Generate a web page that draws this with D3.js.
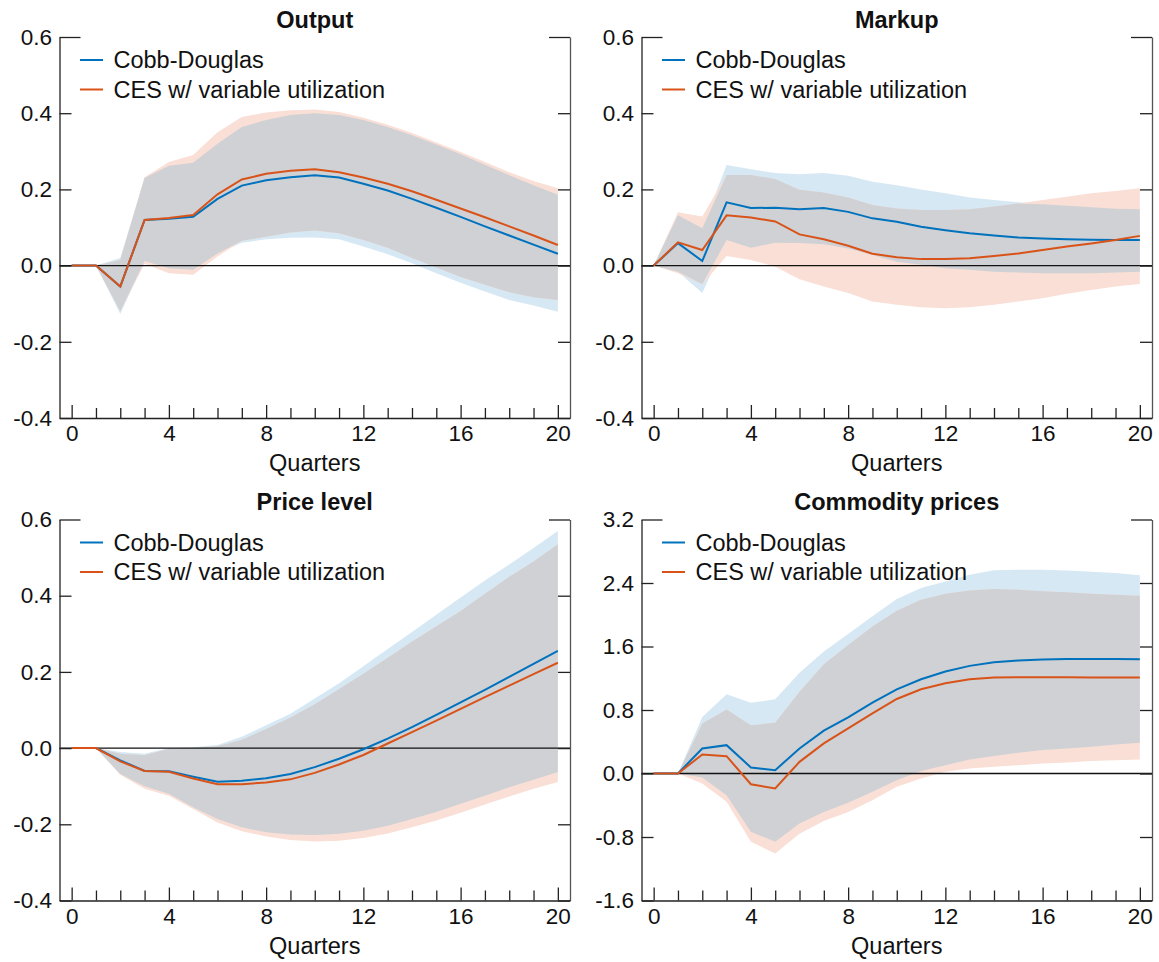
<!DOCTYPE html>
<html><head><meta charset="utf-8">
<script src="https://cdn.jsdelivr.net/npm/d3@7"></script>
<style>
body{margin:0;background:#fff}
svg{display:block}
text{font-family:"Liberation Sans",Arial,Helvetica,sans-serif;fill:#111}
</style>
</head><body>
<svg id="c" width="1159" height="962"></svg>
<script>
// ---------- data ----------
const quarters = [0,1,2,3,4,5,6,7,8,9,10,11,12,13,14,15,16,17,18,19,20];
const xTickLabels = [0,4,8,12,16,20];
const seriesNames = ["Cobb-Douglas","CES w/ variable utilization"];
const titles = ["Output","Markup","Price level","Commodity prices"];
const yTicksSmall = [-0.4,-0.2,0.0,0.2,0.4,0.6];
const yTicksCommodity = [-1.6,-0.8,0.0,0.8,1.6,2.4,3.2];

// Output
const outputCD    = [0,0,-0.055,0.12,0.123,0.128,0.175,0.21,0.224,0.232,0.237,0.231,0.215,0.197,0.175,0.152,0.128,0.103,0.079,0.055,0.031];
const outputCES   = [0,0,-0.055,0.12,0.125,0.133,0.187,0.226,0.241,0.249,0.253,0.245,0.231,0.215,0.195,0.173,0.15,0.127,0.103,0.079,0.054];
const outputCDHi  = [0,0,0.02,0.23,0.262,0.27,0.32,0.364,0.382,0.395,0.40,0.395,0.382,0.364,0.342,0.318,0.292,0.265,0.237,0.211,0.186];
const outputCESHi = [0,0,0.015,0.232,0.272,0.29,0.35,0.39,0.402,0.408,0.41,0.403,0.388,0.37,0.348,0.323,0.298,0.272,0.245,0.222,0.203];
const outputCDLo  = [0,0,-0.127,0.012,-0.007,-0.011,0.032,0.06,0.069,0.073,0.074,0.069,0.05,0.03,0.006,-0.02,-0.045,-0.068,-0.09,-0.105,-0.121];
const outputCESLo = [0,0,-0.12,0.005,-0.02,-0.024,0.024,0.065,0.076,0.087,0.092,0.085,0.067,0.047,0.02,-0.005,-0.03,-0.05,-0.07,-0.083,-0.09];

// Markup
const markupCD    = [0,0.059,0.012,0.166,0.151,0.152,0.148,0.151,0.141,0.124,0.115,0.102,0.093,0.085,0.079,0.074,0.071,0.069,0.068,0.067,0.067];
const markupCES   = [0,0.061,0.041,0.132,0.126,0.116,0.082,0.069,0.052,0.031,0.022,0.017,0.017,0.019,0.025,0.032,0.041,0.05,0.058,0.067,0.078];
const markupCDHi  = [0,0.132,0.098,0.264,0.253,0.243,0.24,0.243,0.236,0.22,0.211,0.2,0.19,0.179,0.172,0.166,0.161,0.157,0.153,0.149,0.148];
const markupCESHi = [0,0.14,0.129,0.238,0.238,0.227,0.199,0.192,0.179,0.159,0.15,0.146,0.146,0.148,0.155,0.163,0.172,0.181,0.19,0.196,0.203];
const markupCDLo  = [0,-0.016,-0.072,0.067,0.047,0.06,0.059,0.056,0.045,0.028,0.01,0.002,-0.007,-0.011,-0.016,-0.018,-0.02,-0.02,-0.02,-0.018,-0.016];
const markupCESLo = [0,-0.02,-0.049,0.025,0.015,-0.003,-0.036,-0.055,-0.072,-0.094,-0.103,-0.109,-0.112,-0.109,-0.103,-0.094,-0.086,-0.074,-0.064,-0.055,-0.048];

// Price level
const priceCD    = [0,0,-0.032,-0.06,-0.061,-0.075,-0.088,-0.086,-0.079,-0.068,-0.05,-0.028,-0.003,0.025,0.055,0.087,0.12,0.153,0.187,0.221,0.255];
const priceCES   = [0,0,-0.035,-0.06,-0.062,-0.08,-0.095,-0.095,-0.09,-0.082,-0.065,-0.043,-0.018,0.012,0.042,0.072,0.103,0.134,0.164,0.194,0.224];
const priceCDHi  = [0,0,-0.01,-0.015,0.0,0.002,0.008,0.03,0.06,0.09,0.13,0.17,0.215,0.26,0.305,0.35,0.395,0.44,0.482,0.525,0.57];
const priceCESHi = [0,0,-0.015,-0.019,-0.002,0.0,0.005,0.022,0.05,0.08,0.115,0.155,0.195,0.237,0.28,0.32,0.36,0.405,0.45,0.49,0.535];
const priceCDLo  = [0,0,-0.068,-0.1,-0.12,-0.155,-0.186,-0.208,-0.221,-0.227,-0.228,-0.225,-0.217,-0.204,-0.186,-0.168,-0.146,-0.125,-0.103,-0.083,-0.063];
const priceCESLo = [0,0,-0.07,-0.107,-0.125,-0.16,-0.195,-0.218,-0.232,-0.241,-0.245,-0.243,-0.236,-0.224,-0.208,-0.19,-0.17,-0.148,-0.127,-0.107,-0.089];

// Commodity prices
const commCD    = [0,0,0.315,0.357,0.076,0.042,0.315,0.539,0.707,0.893,1.061,1.187,1.284,1.356,1.402,1.423,1.436,1.444,1.444,1.444,1.44];
const commCES   = [0,0,0.239,0.218,-0.135,-0.189,0.147,0.379,0.568,0.758,0.939,1.061,1.137,1.187,1.208,1.213,1.213,1.213,1.21,1.21,1.208];
const commCDHi  = [0,0,0.713,1.0,0.89,0.936,1.27,1.537,1.756,1.98,2.198,2.337,2.42,2.505,2.56,2.568,2.568,2.556,2.543,2.526,2.497];
const commCESHi = [0,0,0.63,0.806,0.609,0.638,1.03,1.377,1.62,1.853,2.05,2.19,2.265,2.307,2.324,2.316,2.295,2.282,2.265,2.253,2.24];
const commCDLo  = [0,0,-0.05,-0.273,-0.735,-0.86,-0.63,-0.484,-0.37,-0.23,-0.084,0.03,0.105,0.177,0.219,0.261,0.295,0.316,0.337,0.366,0.387];
const commCESLo = [0,0,-0.126,-0.357,-0.86,-1.008,-0.76,-0.598,-0.484,-0.337,-0.168,-0.063,0.021,0.063,0.084,0.105,0.126,0.139,0.156,0.168,0.177];

// ---------- styling ----------
const blue = "#0072BD", orange = "#D95319";
const blueBand = "#D6E8F4", orangeBand = "#F9DFD6", overlapBand = "#CFD1D5";
const tickFont = 22.5, textFont = 23.5;

const panels = [
  {title:titles[0], cd:outputCD, ces:outputCES, cdHi:outputCDHi, cdLo:outputCDLo, cesHi:outputCESHi, cesLo:outputCESLo, yDomain:[-0.4,0.6], yTicks:yTicksSmall, col:0, row:0},
  {title:titles[1], cd:markupCD, ces:markupCES, cdHi:markupCDHi, cdLo:markupCDLo, cesHi:markupCESHi, cesLo:markupCESLo, yDomain:[-0.4,0.6], yTicks:yTicksSmall, col:1, row:0},
  {title:titles[2], cd:priceCD, ces:priceCES, cdHi:priceCDHi, cdLo:priceCDLo, cesHi:priceCESHi, cesLo:priceCESLo, yDomain:[-0.4,0.6], yTicks:yTicksSmall, col:0, row:1},
  {title:titles[3], cd:commCD, ces:commCES, cdHi:commCDHi, cdLo:commCDLo, cesHi:commCESHi, cesLo:commCESLo, yDomain:[-1.6,3.2], yTicks:yTicksCommodity, col:1, row:1}
];

const svg = d3.select("#c");
svg.append("rect").attr("width",1159).attr("height",962).attr("fill","#fff");

const colOff = [0, 582], rowOff = [0, 482.5];

panels.forEach(p => {
  const L = 59.5 + colOff[p.col], R = 570 + colOff[p.col];
  const T = 37 + rowOff[p.row], B = 418 + rowOff[p.row];
  const x = d3.scaleLinear().domain([-0.5, 20.5]).range([L, R]);
  const y = d3.scaleLinear().domain(p.yDomain).range([B, T]);
  const g = svg.append("g");

  const rows = quarters.map((q,i) => ({
    q, cd:p.cd[i], ces:p.ces[i], cdHi:p.cdHi[i], cdLo:p.cdLo[i], cesHi:p.cesHi[i], cesLo:p.cesLo[i],
    ovLo: Math.max(p.cdLo[i], p.cesLo[i]), ovHi: Math.min(p.cdHi[i], p.cesHi[i])
  }));

  const band = (lo, hi) => d3.area().x(d => x(d.q)).y0(d => y(d[lo])).y1(d => y(d[hi]));
  g.append("path").datum(rows).attr("d", band("cdLo","cdHi")).attr("fill", blueBand);
  g.append("path").datum(rows).attr("d", band("cesLo","cesHi")).attr("fill", orangeBand);
  g.append("path").datum(rows).attr("d", band("ovLo","ovHi")).attr("fill", overlapBand);

  // zero line
  g.append("line").attr("x1", L).attr("x2", R).attr("y1", y(0)).attr("y2", y(0))
    .attr("stroke", "#111").attr("stroke-width", 1.3);

  const line = key => d3.line().x(d => x(d.q)).y(d => y(d[key]));
  g.append("path").datum(rows).attr("d", line("cd")).attr("fill","none").attr("stroke", blue).attr("stroke-width", 2);
  g.append("path").datum(rows).attr("d", line("ces")).attr("fill","none").attr("stroke", orange).attr("stroke-width", 2);

  // left axis
  const yFmt = d3.format(".1f");
  const ax = g.append("g").attr("transform", `translate(${L},0)`)
    .call(d3.axisLeft(y).tickValues(p.yTicks).tickSize(-12).tickSizeOuter(0).tickPadding(7.5)
      .tickFormat(v => yFmt(v).replace("\u2212","-")));
  ax.select(".domain").attr("stroke","#222").attr("stroke-width",1.3);
  ax.selectAll(".tick line").attr("stroke","#222").attr("stroke-width",1.3)
    .filter(d => d === p.yDomain[1]).attr("x2", 21);
  ax.selectAll(".tick text").attr("font-size", tickFont).attr("fill","#111")
    .attr("font-family",'"Liberation Sans",Arial,sans-serif');

  // right axis
  const ar = g.append("g").attr("transform", `translate(${R},0)`)
    .call(d3.axisRight(y).tickValues(p.yTicks).tickSize(-12).tickSizeOuter(0).tickFormat(""));
  ar.select(".domain").attr("stroke","#555").attr("stroke-width",1.3);
  ar.selectAll(".tick line").attr("stroke","#222").attr("stroke-width",1.3)
    .filter(d => d === p.yDomain[1]).attr("x2", -21);

  // bottom axis
  const ab = g.append("g").attr("transform", `translate(0,${B})`)
    .call(d3.axisBottom(x).tickValues(quarters).tickSize(-10).tickSizeOuter(0).tickPadding(7.2)
      .tickFormat(q => xTickLabels.includes(q) ? String(q) : ""));
  ab.select(".domain").attr("stroke","#222").attr("stroke-width",1.3);
  ab.selectAll(".tick line").attr("stroke","#222").attr("stroke-width",1.3)
    .filter(d => xTickLabels.includes(d)).attr("y2", -13);
  ab.selectAll(".tick text").attr("font-size", tickFont).attr("fill","#111")
    .attr("font-family",'"Liberation Sans",Arial,sans-serif');

  // title
  g.append("text").attr("x", (L+R)/2).attr("y", 27.7 + rowOff[p.row]).attr("text-anchor","middle")
    .attr("font-size", textFont).attr("font-weight","bold").text(p.title);
  // x label
  g.append("text").attr("x", (L+R)/2).attr("y", 471 + rowOff[p.row]).attr("text-anchor","middle")
    .attr("font-size", textFont).text("Quarters");

  // legend
  [blue, orange].forEach((c, i) => {
    const ly = T + 23 + i*29.5;
    g.append("line").attr("x1", L+20.5).attr("x2", L+43.5).attr("y1", ly).attr("y2", ly)
      .attr("stroke", c).attr("stroke-width", 2);
    g.append("text").attr("x", L+54).attr("y", ly+8).attr("font-size", textFont).text(seriesNames[i]);
  });
});
</script>
</body></html>
